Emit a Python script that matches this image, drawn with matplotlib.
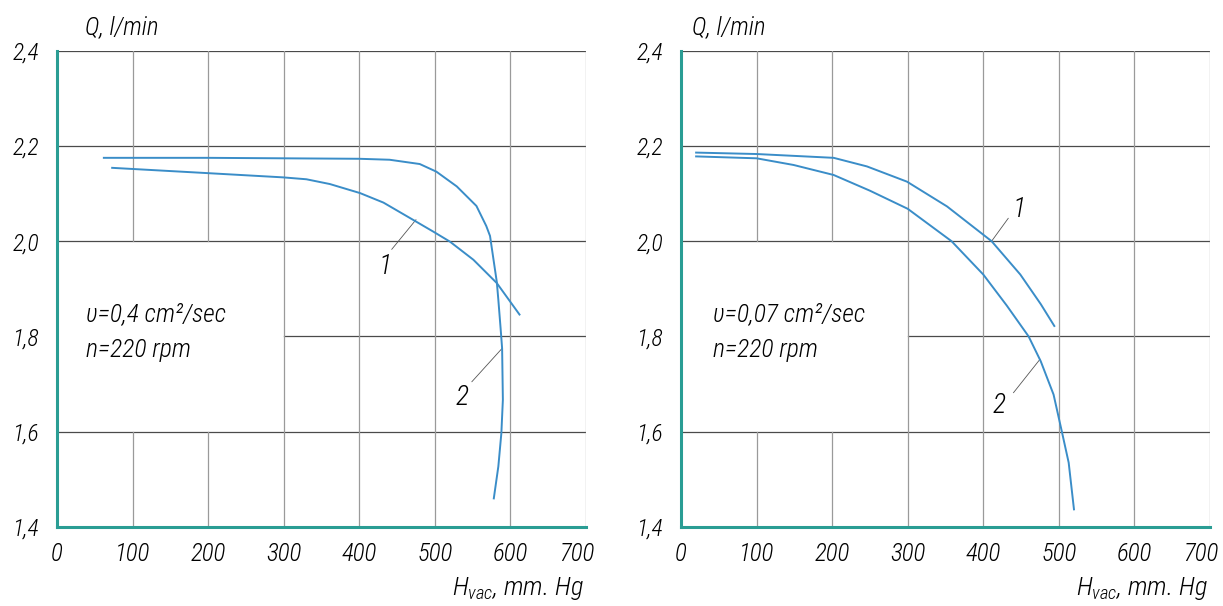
import matplotlib
matplotlib.use("Agg")
import matplotlib.pyplot as plt
import matplotlib.transforms as mtransforms
from matplotlib import font_manager

# look for a narrow / condensed italic face, like the drafting font of the original
CONDENSED = {"condensed", "semi-condensed", "extra-condensed", "ultra-condensed", 500, 400, 300}
narrow = None
for f in font_manager.fontManager.ttflist:
    low = f.name.lower()
    is_narrow = "narrow" in low or "condensed" in low or f.stretch in CONDENSED
    if is_narrow and f.style in ("italic", "oblique") and "mono" not in low and "serif" not in low:
        if narrow is None or f.weight in (400, "normal", "regular"):
            narrow = f
if narrow is not None:
    FONT = narrow.name
    plt.rcParams["font.stretch"] = narrow.stretch
    plt.rcParams["font.weight"] = "light"
    SCALE = 1.0
else:
    FONT = "DejaVu Sans"
    SCALE = 0.86
plt.rcParams["font.family"] = [FONT, "DejaVu Sans"]
plt.rcParams["font.style"] = "italic"
plt.rcParams["mathtext.fontset"] = "custom"
plt.rcParams["mathtext.it"] = FONT + ":italic"
plt.rcParams["mathtext.rm"] = FONT + ":italic"

# ---- data (H_vac in mm Hg, Q in l/min) ----
x_ticks = [0, 100, 200, 300, 400, 500, 600, 700]
y_ticks = [1.4, 1.6, 1.8, 2.0, 2.2, 2.4]
y_tick_labels = ["1,4", "1,6", "1,8", "2,0", "2,2", "2,4"]

# left panel, v = 0.4 cm2/sec
left_h1 = [73, 198, 299, 330, 361, 401, 432, 471, 498, 520, 551, 582, 612]
left_q1 = [2.154, 2.143, 2.134, 2.130, 2.120, 2.101, 2.081, 2.045, 2.020, 1.999, 1.961, 1.912, 1.846]
left_h2 = [62, 200, 300, 400, 440, 480, 502, 529, 555, 568, 573, 582, 584, 587, 589, 590, 588, 584, 578]
left_q2 = [2.175, 2.175, 2.174, 2.173, 2.171, 2.162, 2.146, 2.115, 2.074, 2.032, 2.011, 1.914, 1.877, 1.817, 1.775, 1.667, 1.597, 1.527, 1.46]

# right panel, v = 0.07 cm2/sec
right_h1 = [20, 100, 202, 246, 299, 352, 411, 449, 476, 494]
right_q1 = [2.186, 2.183, 2.175, 2.157, 2.125, 2.073, 2.000, 1.930, 1.868, 1.822]
right_h2 = [20, 100, 149, 202, 250, 300, 358, 400, 431, 460, 476, 493, 504, 513, 520]
right_q2 = [2.178, 2.174, 2.160, 2.139, 2.106, 2.068, 2.000, 1.930, 1.865, 1.800, 1.748, 1.678, 1.600, 1.535, 1.437]

panels = [
    dict(h1=left_h1, q1=left_q1, h2=left_h2, q2=left_q2,
         note="\u03c5=0,4 cm\u00b2/sec", note_x=39, qlab_x=0.053,
         lead1=[(475, 2.045), (443, 1.983)], lab1=(434, 1.947),
         lead2=[(589, 1.775), (549, 1.705)], lab2=(536, 1.672)),
    dict(h1=right_h1, q1=right_q1, h2=right_h2, q2=right_q2,
         note="\u03c5=0,07 cm\u00b2/sec", note_x=42, qlab_x=0.02,
         lead1=[(411, 2.000), (433, 2.048)], lab1=(447, 2.066),
         lead2=[(475, 1.752), (440, 1.682)], lab2=(421, 1.656)),
]

TEAL = "#2a9d94"
BLUE = "#3a8dc8"
HGRID = "#4a4a4a"
VGRID = "#9a9a9a"

fig = plt.figure(figsize=(12.23, 6.06), dpi=100)
lefts = [57 / 1223, 681 / 1223]

for left, p in zip(lefts, panels):
    ax = fig.add_axes([left, 0.1304, 529 / 1223, 0.786])
    ax.set_xlim(0, 700)
    ax.set_ylim(1.4, 2.4)

    # grid drawn by hand: the note area (0-300, 1.6-2.0) is left blank
    for q in [1.6, 2.0, 2.2, 2.4]:
        ax.plot([0, 700], [q, q], color=HGRID, lw=0.9, zorder=1)
    ax.plot([300, 700], [1.8, 1.8], color=HGRID, lw=0.9, zorder=1)
    for h in [100, 200]:
        ax.plot([h, h], [2.0, 2.4], color=VGRID, lw=0.9, zorder=1)
        ax.plot([h, h], [1.4, 1.6], color=VGRID, lw=0.9, zorder=1)
    for h in [300, 400, 500, 600, 700]:
        ax.plot([h, h], [1.4, 2.4], color=VGRID, lw=0.9, zorder=1)

    ax.plot(p["h1"], p["q1"], color=BLUE, lw=1.4, zorder=3)
    ax.plot(p["h2"], p["q2"], color=BLUE, lw=1.4, zorder=3)

    # leader lines and curve numbers
    (a, b), (c, d) = p["lead1"]
    ax.plot([a, c], [b, d], color="#555555", lw=0.6, zorder=2)
    (a, b), (c, d) = p["lead2"]
    ax.plot([a, c], [b, d], color="#555555", lw=0.6, zorder=2)
    ax.text(*p["lab1"], "1", fontsize=20 * SCALE, ha="center", va="center")
    ax.text(*p["lab2"], "2", fontsize=20 * SCALE, ha="center", va="center")

    ax.text(p["note_x"], 1.846, p["note"], fontsize=18.5 * SCALE, ha="left", va="center")
    ax.text(p["note_x"], 1.772, "n=220 rpm", fontsize=18.5 * SCALE, ha="left", va="center")

    for s in ["top", "right"]:
        ax.spines[s].set_visible(False)
    for s in ["left", "bottom"]:
        ax.spines[s].set_color(TEAL)
        ax.spines[s].set_linewidth(2.2)
        ax.spines[s].set_zorder(4)

    ax.set_xticks(x_ticks)
    ax.set_xticklabels([str(v) for v in x_ticks])
    ax.set_yticks(y_ticks)
    ax.set_yticklabels(y_tick_labels)
    ax.tick_params(axis="x", length=0, labelsize=18 * SCALE, pad=11)
    ax.tick_params(axis="y", length=0, labelsize=17 * SCALE, pad=13)
    # last x label sits a little left of its grid line, as in the drawing
    last = ax.get_xticklabels()[-1]
    last.set_transform(last.get_transform() +
                       mtransforms.ScaledTranslation(-9 / 100, 0, fig.dpi_scale_trans))

    ax.text(p["qlab_x"], 1.05, "Q, l/min", transform=ax.transAxes,
            fontsize=18 * SCALE, ha="left", va="center")
    ax.text(0.995, -0.13, r"$H_{vac}$, mm. Hg", transform=ax.transAxes,
            fontsize=19 * SCALE, ha="right", va="center")

fig.savefig("out.png", dpi=100)
